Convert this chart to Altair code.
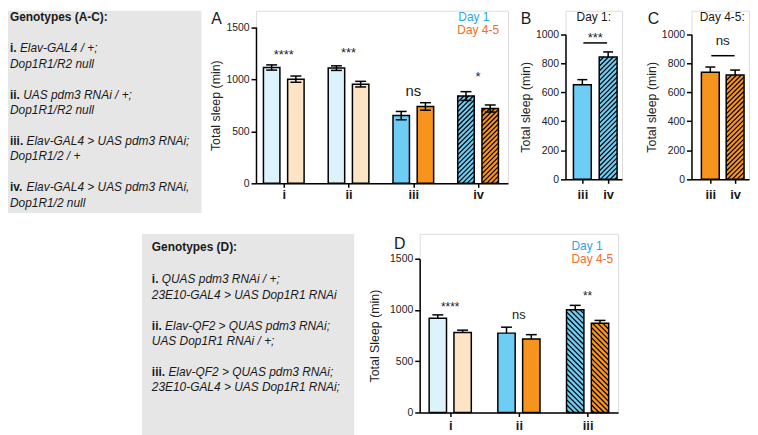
import json
import altair as alt
import pandas as pd

FONT = "Liberation Sans"
INK = "#1a1a1a"
GRAY = "#e6e6e6"
PALE_BLUE = "#ddf3fc"
PALE_ORANGE = "#fde4c4"
BLUE = "#6dcdf4"
ORANGE = "#f7941d"
LEG_BLUE = "#2ba6de"
LEG_ORANGE = "#f26c2b"

# ---------------- data ----------------
AC_TITLE = "Genotypes (A-C):"
AC_NUMS = ["i.", "ii.", "iii.", "iv."]
AC_L1 = ["Elav-GAL4 / +;", "UAS pdm3 RNAi / +;", "Elav-GAL4 > UAS pdm3 RNAi;", "Elav-GAL4 > UAS pdm3 RNAi,"]
AC_L2 = ["Dop1R1/R2 null", "Dop1R1/R2 null", "Dop1R1/2 / +", "Dop1R1/2 null"]

D_TITLE = "Genotypes (D):"
D_NUMS = ["i.", "ii.", "iii."]
D_L1 = ["QUAS pdm3 RNAi / +;", "Elav-QF2 > QUAS pdm3 RNAi;", "Elav-QF2 > QUAS pdm3 RNAi;"]
D_L2 = ["23E10-GAL4 > UAS Dop1R1 RNAi", "UAS Dop1R1 RNAi / +;", "23E10-GAL4 > UAS Dop1R1 RNAi;"]

A_LABELS = ["i", "ii", "iii", "iv"]
A_STYLE = ["pale", "pale", "solid", "hatched"]
A_DAY1 = [1112, 1106, 650, 838]
A_DAY1_ERR = [25, 22, 40, 42]
A_DAY45 = [1000, 952, 738, 718]
A_DAY45_ERR = [30, 27, 36, 34]
A_SIG = ["****", "***", "ns", "*"]
A_SIG_Y = [1233, 1249, 888, 1017]

B_LABELS = ["iii", "iv"]
B_VALS = [652, 843]
B_ERR = [35, 35]
B_SIG = "***"
B_SIG_LINE = 940
B_SIG_Y = 973

C_LABELS = ["iii", "iv"]
C_VALS = [738, 719]
C_ERR = [36, 34]
C_SIG = "ns"
C_SIG_LINE = 852
C_SIG_Y = 951

D_LABELS = ["i", "ii", "iii"]
D_STYLE = ["pale", "solid", "hatched"]
D_DAY1 = [919, 774, 1003]
D_DAY1_ERR = [33, 58, 42]
D_DAY45 = [781, 716, 871]
D_DAY45_ERR = [22, 43, 27]
D_SIG = ["****", "ns", "**"]
D_SIG_Y = [1031, 948, 1134]


# ---------------- helpers ----------------
def txt(s, x, y, size, color=INK, weight="normal", style="normal", align="left", baseline="alphabetic"):
    return alt.Chart(pd.DataFrame({"t": [s]})).mark_text(
        align=align, baseline=baseline, font=FONT, fontSize=size,
        fontWeight=weight, fontStyle=style, color=color
    ).encode(text="t:N", x=alt.value(x), y=alt.value(y))


def spacer(w, h=10):
    return alt.Chart(pd.DataFrame({"t": [""]})).mark_text().encode(text="t:N").properties(width=w, height=h)


BOLD_W = {"i": 0.278, "v": 0.556, ".": 0.278, " ": 0.278}


def genotype_box(title, nums, l1, l2, w, h, x0, title_y, l1_y, block, l2_dy, size=12):
    layers = [txt(title, x0, title_y, size, weight="bold")]
    for k, (n, a, b) in enumerate(zip(nums, l1, l2)):
        y1 = l1_y + k * block
        layers.append(txt(n, x0, y1, size, weight="bold"))
        xi = x0 + size * sum(BOLD_W[c] for c in n + " ")
        layers.append(txt(a, xi, y1, size, style="italic"))
        layers.append(txt(b, x0, y1 + l2_dy, size, style="italic"))
    return alt.layer(*layers).properties(
        width=w, height=h, view=alt.ViewBackground(fill=GRAY, stroke="transparent", strokeWidth=0))


def hatch_segments(x0, x1, top, ppx, ppy, direction, step):
    W = (x1 - x0) * ppx
    H = top * ppy
    segs = []
    if direction == "/":
        c = -W + step / 2
        while c < H:
            xa, xb = max(0.0, -c), min(W, H - c)
            if xb > xa:
                segs.append((x0 + xa / ppx, (xa + c) / ppy, x0 + xb / ppx, (xb + c) / ppy))
            c += step
    else:
        c = step / 2
        while c < W + H:
            xa, xb = max(0.0, c - H), min(W, c)
            if xb > xa:
                segs.append((x0 + xa / ppx, (c - xa) / ppy, x0 + xb / ppx, (c - xb) / ppy))
            c += step
    return segs


def make_bar(xc, v, e, fill, hatch, ppu, w_px, cap_px, both):
    return dict(xc=xc, x0=xc - w_px / 2 / ppu, x1=xc + w_px / 2 / ppu, val=v,
                lo=v - e if both else v, hi=v + e,
                cx0=xc - cap_px / 2 / ppu, cx1=xc + cap_px / 2 / ppu,
                fill=fill, hatch=hatch)


def grouped_bars(day1, err1, day45, err45, styles, ppu, off_px, w_px, cap_px, hdir, both):
    bars = []
    for k in range(len(day1)):
        for j, (v, e) in enumerate([(day1[k], err1[k]), (day45[k], err45[k])]):
            base = [BLUE, ORANGE][j]
            pale = [PALE_BLUE, PALE_ORANGE][j]
            xc = (k + 1) + (-1 if j == 0 else 1) * off_px / ppu
            bars.append(make_bar(xc, v, e, pale if styles[k] == "pale" else base,
                                 hdir if styles[k] == "hatched" else "", ppu, w_px, cap_px, both))
    return bars


def bar_panel(bars, xmin, ppu, width, height, ytop, ymax, yticks, xlabels, ytitle,
              ytitle_pad, xlab_pad, hatch_step, sig_x, sig_y, sig_t, sig_fs,
              sig_lines=(), texts=()):
    xmax = xmin + width / ppu
    ppy = (height - ytop) / ymax
    xsc = alt.Scale(domain=[xmin, xmax], nice=False, zero=False)
    ysc = alt.Scale(domain=[0, ymax], range=[height, ytop], nice=False, zero=False)
    xvals = list(range(1, len(xlabels) + 1))
    xaxis = alt.Axis(values=xvals, labelExpr=json.dumps([""] + xlabels) + "[datum.value]",
                     title=None, grid=False, domainColor="black", domainWidth=1.5,
                     tickColor="black", tickWidth=1.5, tickSize=4, labelFont=FONT,
                     labelFontSize=13, labelFontWeight="bold", labelColor=INK,
                     labelPadding=xlab_pad, labelFlush=False, labelOverlap=False)
    yaxis = alt.Axis(values=yticks, format="d", title=ytitle, grid=False, domainColor="black",
                     domainWidth=1.5, tickColor="black", tickWidth=1.5, tickSize=5, labelFont=FONT,
                     labelFontSize=10.5, labelColor="#222222", labelPadding=2, labelFlush=False,
                     titleFont=FONT, titleFontSize=12.5, titleFontWeight="normal",
                     titleColor="#222222", titlePadding=ytitle_pad)

    def X(f):
        return alt.X(f, type="quantitative", scale=xsc, axis=xaxis)

    def Y(f):
        return alt.Y(f, type="quantitative", scale=ysc, axis=yaxis)

    df = pd.DataFrame(bars)
    base = alt.Chart(df)
    fills = base.mark_bar(strokeWidth=0).encode(
        x=X("x0"), x2="x1", y=Y("val"), y2=alt.datum(0),
        fill=alt.Fill("fill:N", scale=None))
    segs = []
    for b in bars:
        if b["hatch"]:
            segs += hatch_segments(b["x0"], b["x1"], b["val"], ppu, ppy, b["hatch"], hatch_step)
    hdf = pd.DataFrame(segs, columns=["hx0", "hy0", "hx1", "hy1"])
    hatch = alt.Chart(hdf).mark_rule(color="black", strokeWidth=1.2).encode(
        x=X("hx0"), y=Y("hy0"), x2="hx1", y2="hy1")
    outline = base.mark_bar(fillOpacity=0, stroke="black", strokeWidth=1.5).encode(
        x=X("x0"), x2="x1", y=Y("val"), y2=alt.datum(0))
    err = base.mark_rule(color="black", strokeWidth=1.5).encode(x=X("xc"), y=Y("lo"), y2="hi")
    cap_hi = base.mark_rule(color="black", strokeWidth=1.5).encode(x=X("cx0"), x2="cx1", y=Y("hi"))
    cap_lo = base.transform_filter("datum.lo < datum.val").mark_rule(color="black", strokeWidth=1.5).encode(
        x=X("cx0"), x2="cx1", y=Y("lo"))
    sdf = pd.DataFrame({"x": sig_x, "y": sig_y, "t": sig_t, "fs": sig_fs})
    sig = alt.Chart(sdf).mark_text(baseline="middle", align="center", font=FONT, color=INK).encode(
        x=X("x"), y=Y("y"), text="t:N", size=alt.Size("fs:Q", scale=None))
    layers = [fills, hatch, outline, err, cap_hi, cap_lo, sig]
    if sig_lines:
        ldf = pd.DataFrame(sig_lines, columns=["lx0", "lx1", "ly"])
        layers.append(alt.Chart(ldf).mark_rule(color="black", strokeWidth=1.5).encode(
            x=X("lx0"), x2="lx1", y=Y("ly")))
    layers += list(texts)
    return alt.layer(*layers).properties(width=width, height=height)


# ---------------- genotype boxes ----------------
boxAC = genotype_box(AC_TITLE, AC_NUMS, AC_L1, AC_L2, 195, 204, 2, 10.3, 42, 46.67, 15.5)
boxD = genotype_box(D_TITLE, D_NUMS, D_L1, D_L2, 214, 203, 10, 17.7, 49.7, 46.67, 15.5)

# ---------------- panel A ----------------
A_PPU = 65.3
A_bars = grouped_bars(A_DAY1, A_DAY1_ERR, A_DAY45, A_DAY45_ERR, A_STYLE, A_PPU, 12.2, 16.6, 11, "/", True)
panelA = bar_panel(
    A_bars, 1 - 28 / A_PPU, A_PPU, 254, 174, 16.5, 1500, [0, 500, 1000, 1500], A_LABELS,
    "Total sleep (min)", 3, 1.5, 4.8,
    list(range(1, 5)), A_SIG_Y, A_SIG, [13, 13, 15, 13],
    texts=[txt("A", -45, 13, 16),
           txt("Day 1", 204, 10, 12, color=LEG_BLUE),
           txt("Day 4-5", 203, 23, 12, color=LEG_ORANGE)])

# ---------------- panel B ----------------
B_PPU = 26
B_bars = [make_bar(k + 1, B_VALS[k], B_ERR[k], BLUE, "" if k == 0 else "/", B_PPU, 18, 10, False)
          for k in range(2)]
panelB = bar_panel(
    B_bars, 1 - 17 / B_PPU, B_PPU, 57, 170, 23.7, 1000, [0, 200, 400, 600, 800, 1000], B_LABELS,
    "Total sleep (min)", 3, 5, 4.8,
    [1.5], [B_SIG_Y], [B_SIG], [13],
    sig_lines=[(1.04, 1.96, B_SIG_LINE)],
    texts=[txt("B", -45, 13, 16),
           txt("Day 1:", 28.5, 10, 12, align="center")])

# ---------------- panel C ----------------
C_PPU = 25
C_bars = [make_bar(k + 1, C_VALS[k], C_ERR[k], ORANGE, "" if k == 0 else "/", C_PPU, 18, 10, False)
          for k in range(2)]
panelC = bar_panel(
    C_bars, 1 - 19 / C_PPU, C_PPU, 58, 170, 23.7, 1000, [0, 200, 400, 600, 800, 1000], C_LABELS,
    "Total sleep (min)", 3, 5, 4.8,
    [1.5], [C_SIG_Y], [C_SIG], [13.5],
    sig_lines=[(1.04, 1.98, C_SIG_LINE)],
    texts=[txt("C", -44, 13, 16),
           txt("Day 4-5:", 31, 10, 12, align="center")])

# ---------------- panel D ----------------
D_PPU = 69.25
D_bars = grouped_bars(D_DAY1, D_DAY1_ERR, D_DAY45, D_DAY45_ERR, D_STYLE, D_PPU, 12.5, 17.5, 11, "\\", False)
panelD = bar_panel(
    D_bars, 1 - 30.8 / D_PPU, D_PPU, 200, 180, 25, 1500, [0, 500, 1000, 1500], D_LABELS,
    "Total Sleep (min)", 8, 3.5, 5.2,
    [1, 2, 3], D_SIG_Y, D_SIG, [12, 13, 12],
    texts=[txt("D", -26, 15, 16),
           txt("Day 1", 153, 16.5, 12, color=LEG_BLUE),
           txt("Day 4-5", 153, 29.5, 12, color=LEG_ORANGE)])

row1 = alt.hconcat(boxAC, spacer(55), panelA, spacer(58), panelB, spacer(70), panelC,
                   spacing=0, bounds="flush")
row2 = alt.hconcat(spacer(135), boxD, spacer(66), panelD, spacing=0, bounds="flush")

chart = alt.vconcat(row1, row2, spacing=20).properties(padding=0).configure_view(
    stroke="transparent", strokeWidth=0).configure(font=FONT)

chart.save("out.html", embed_options={"renderer": "svg", "actions": False})
